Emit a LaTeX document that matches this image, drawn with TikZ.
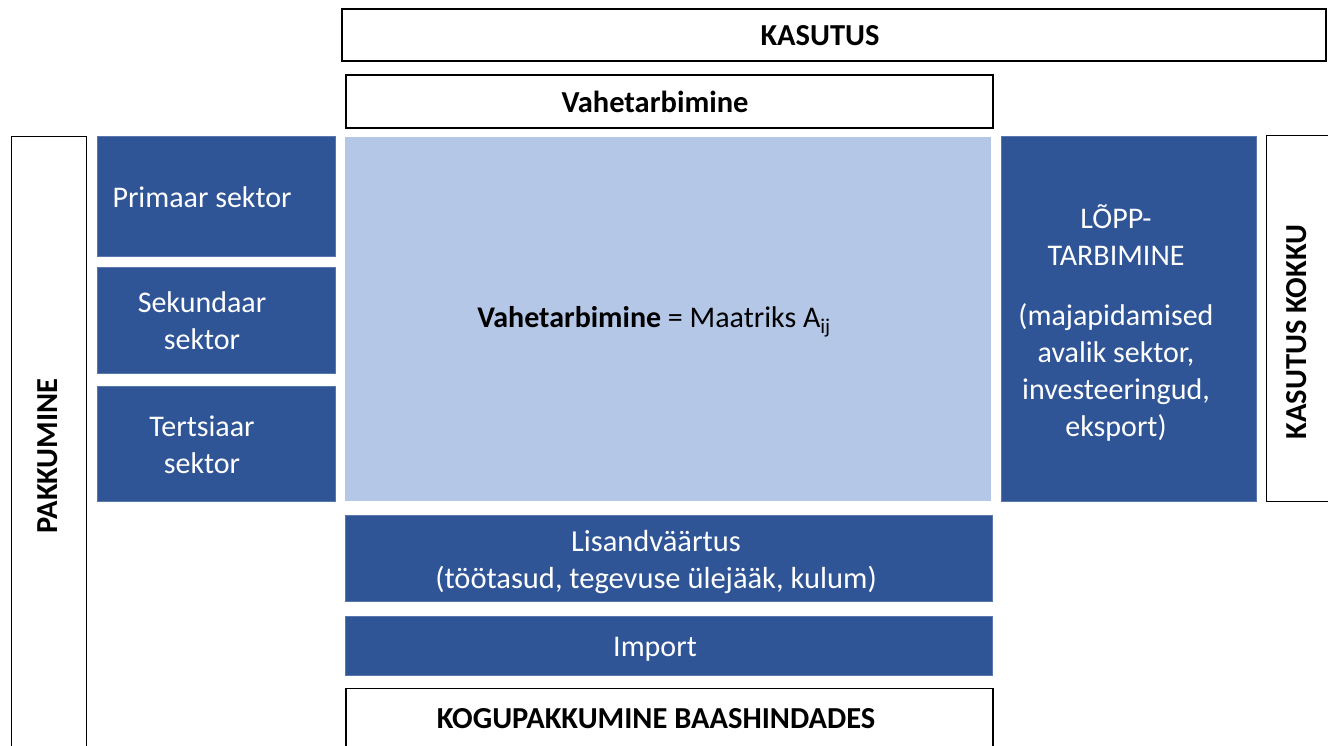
\documentclass[tikz,border=0pt]{standalone}
\usepackage{fontspec}
\setmainfont{Carlito}
\definecolor{dblue}{HTML}{2F5597}
\definecolor{lblue}{HTML}{B4C7E7}
\begin{document}
\begin{tikzpicture}[x=1pt,y=-1pt,
  frame/.style={draw=black,line width=1.3pt,fill=white,inner sep=0pt},
  bluebox/.style={fill=dblue,draw=dblue!80!white,line width=0.6pt,inner sep=0pt,text=white,align=center,font=\fontsize{30}{37}\selectfont},
  lbl/.style={font=\fontsize{30.5}{36}\selectfont\bfseries,inner sep=0pt}]
\useasboundingbox[fill=white] (0,0) rectangle (1328,745);
% top frames
\node[frame,minimum width=984pt,minimum height=52pt] (kasutus) at (834,35) {};
\node[lbl] (kasutusT) at (820,36) {KASUTUS};
\node[frame,minimum width=647pt,minimum height=53pt] (vahet) at (669.5,101.5) {};
\node[lbl] (vahetT) at (655,102) {Vahetarbimine};
% left frame
\node[frame,minimum width=75pt,minimum height=630pt,anchor=north west] (pakk) at (11,136) {};
\node[lbl,rotate=90] (pakkT) at (48,456) {PAKKUMINE};
% sectors
\node[bluebox,minimum width=238pt,minimum height=120pt] (prim) at (216,196) {};
\node[bluebox,fill=none,draw=none] (primT) at (202,197) {Primaar sektor};
\node[bluebox,minimum width=238pt,minimum height=106pt] (sek) at (216,320) {};
\node[bluebox,fill=none,draw=none] (sekT) at (202,321) {Sekundaar\\sektor};
\node[bluebox,minimum width=238pt,minimum height=115pt] (ter) at (216,443.5) {};
\node[bluebox,fill=none,draw=none] (terT) at (202,445) {Tertsiaar\\sektor};
% matrix
\node[fill=lblue,minimum width=646pt,minimum height=364pt,inner sep=0pt] (mat) at (668,319) {};
\node[font=\fontsize{30}{37}\selectfont,inner sep=0pt] (matT) at (654,322) {\textbf{Vahetarbimine} = Maatriks A\textsubscript{ij}};
% final use
\node[bluebox,minimum width=255pt,minimum height=365pt] (lopp) at (1128.5,318.5) {};
\node[bluebox,fill=none,draw=none] (loppT) at (1116,323) {LÕPP-\\TARBIMINE\\[23pt](majapidamised\\avalik sektor,\\investeeringud,\\eksport)};
% right frame
\node[frame,minimum width=80pt,minimum height=366pt,anchor=north west] (kokku) at (1266,135) {};
\node[lbl,rotate=90] (kokkuT) at (1297,332) {KASUTUS KOKKU};
% bottom
\node[bluebox,minimum width=647pt,minimum height=86pt] (lis) at (668.5,558) {};
\node[bluebox,fill=none,draw=none,font=\fontsize{30.5}{37}\selectfont] (lisT) at (656,562) {Lisandväärtus\\(töötasud, tegevuse ülejääk, kulum)};
\node[bluebox,minimum width=647pt,minimum height=59pt] (imp) at (668.5,645.5) {};
\node[bluebox,fill=none,draw=none] (impT) at (655,649) {Import};
\node[frame,minimum width=647pt,minimum height=80pt,anchor=north] (kogu) at (669.5,688) {};
\node[lbl] (koguT) at (656,719) {KOGUPAKKUMINE BAASHINDADES};
\end{tikzpicture}
\end{document}
